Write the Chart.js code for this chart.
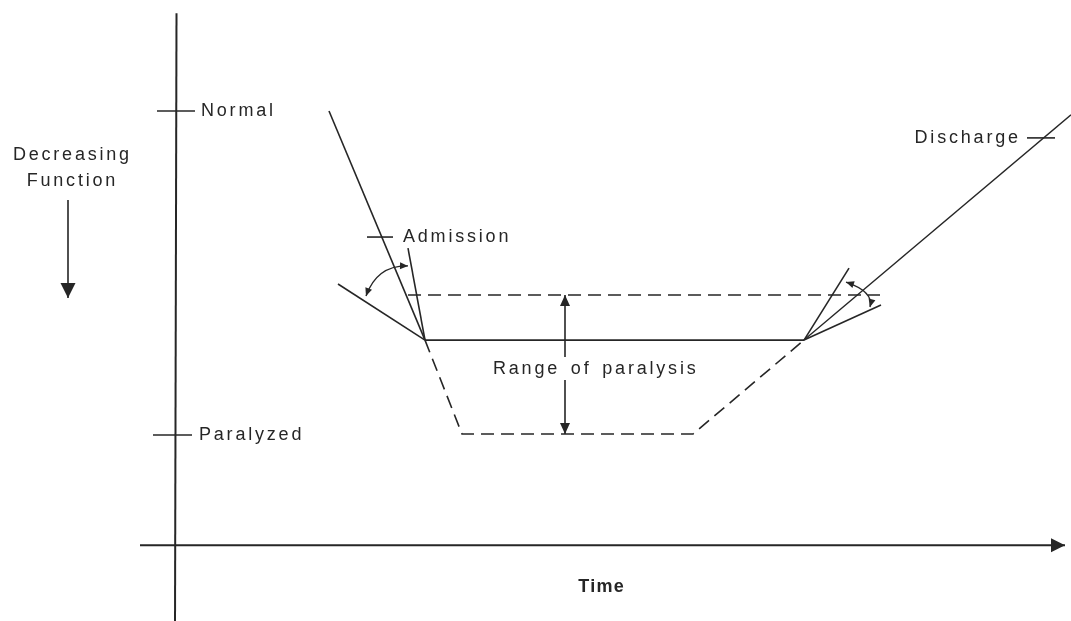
<!DOCTYPE html>
<html>
<head>
<meta charset="utf-8">
<script src="https://cdn.jsdelivr.net/npm/chart.js@4"></script>
<style>
  html, body { margin: 0; padding: 0; background: #ffffff; }
  #wrap { width: 1071px; height: 621px; }
</style>
</head>
<body>
<div id="wrap"><canvas id="c" width="1071" height="621"></canvas></div>
<script>
// ---- Data (time units on x, function level on y: Paralyzed = 0, Normal = 100) ----
const NORMAL = 100;
const PARALYZED = 0;
const yAxisLine       = [[-0.05, 130.2], [-0.2, -57.4]];
const timeAxisLine    = [[-3.7, -34], [88.8, -34]];
const decreasingArrow = [[-10.9, 72.5], [-10.9, 42.3]];
const normalTick      = [[-2.0, NORMAL], [1.8, NORMAL]];
const paralyzedTick   = [[-2.4, PARALYZED], [1.5, PARALYZED]];
const admissionTick   = [[19.0, 61.1], [21.6, 61.1]];
const dischargeTick   = [[85.0, 91.7], [87.8, 91.7]];
const onset           = [[15.2, NORMAL], [24.8, 29.3]];
const onsetTangent    = [[23.1, 57.7], [24.8, 29.3]];
const onsetShallow    = [[16.1, 46.6], [24.8, 29.3]];
const plateau         = [[24.8, 29.3], [62.7, 29.3]];
const upperBound      = [[23.1, 43.2], [70.3, 43.2]];
const lowerBound      = [[24.8, 29.3], [28.5, 0.3], [51.6, 0.3], [62.7, 29.3]];
const recovery        = [[62.7, 29.3], [89.4, 98.8]];
const recoverySteep   = [[62.7, 29.3], [67.2, 51.5]];
const recoveryShallow = [[62.7, 29.3], [70.4, 40.1]];
const rangeShaftTop   = [[38.8, 43.2], [38.8, 24.1]];
const rangeShaftBot   = [[38.8, 17.0], [38.8, 0.3]];
const leftCurve       = [[18.9, 42.9], [20.5, 50.0], [23.1, 52.2]];
const rightCurve      = [[66.9, 47.2], [68.9, 43.8], [69.3, 39.5]];
const labelTexts      = ['Normal', 'Paralyzed', 'Admission', 'Discharge', 'Range of paralysis', 'Time', 'Decreasing', 'Function'];
const labelAnchors    = [[2.4, NORMAL], [2.2, PARALYZED], [22.6, 61.1], [84.1, 91.7], [31.6, 20.5], [42.4, -46.9], [-10.6, 86.4], [-10.6, 78.4]];
const labelAligns     = ['left', 'left', 'left', 'right', 'left', 'center', 'center', 'center'];

const INK = '#262626';
const toXY = arr => arr.map(p => ({ x: p[0], y: p[1] }));
function ds(arr, opts) {
  return Object.assign({
    data: toXY(arr), showLine: true, borderColor: INK, borderWidth: 1.6,
    pointRadius: 0, fill: false, tension: 0
  }, opts || {});
}

function arrowHead(ctx, tx, ty, ang, len, hw) {
  ctx.save();
  ctx.translate(tx, ty);
  ctx.rotate(ang);
  ctx.beginPath();
  ctx.moveTo(0, 0);
  ctx.lineTo(-len, -hw);
  ctx.lineTo(-len, hw);
  ctx.closePath();
  ctx.fillStyle = INK;
  ctx.fill();
  ctx.restore();
}

const decorations = {
  id: 'decorations',
  afterDatasetsDraw(chart) {
    const ctx = chart.ctx;
    const xs = chart.scales.x, ys = chart.scales.y;
    const P = p => [xs.getPixelForValue(p[0]), ys.getPixelForValue(p[1])];

    const headAtEnd = (arr, len, hw) => {
      const a = P(arr[arr.length - 2]), b = P(arr[arr.length - 1]);
      arrowHead(ctx, b[0], b[1], Math.atan2(b[1] - a[1], b[0] - a[0]), len, hw);
    };
    headAtEnd(timeAxisLine, 14, 7);
    headAtEnd(decreasingArrow, 15, 7.5);
    const rt = P(rangeShaftTop[0]), rb = P(rangeShaftBot[1]);
    arrowHead(ctx, rt[0], rt[1], -Math.PI / 2, 11, 5);
    arrowHead(ctx, rb[0], rb[1], Math.PI / 2, 11, 5);

    const curve = (pts) => {
      const p1 = P(pts[0]), m = P(pts[1]), p2 = P(pts[2]);
      const c = [2 * m[0] - (p1[0] + p2[0]) / 2, 2 * m[1] - (p1[1] + p2[1]) / 2];
      ctx.save();
      ctx.strokeStyle = INK;
      ctx.lineWidth = 1.4;
      ctx.beginPath();
      ctx.moveTo(p1[0], p1[1]);
      ctx.quadraticCurveTo(c[0], c[1], p2[0], p2[1]);
      ctx.stroke();
      ctx.restore();
      arrowHead(ctx, p1[0], p1[1], Math.atan2(p1[1] - c[1], p1[0] - c[0]), 8, 3.5);
      arrowHead(ctx, p2[0], p2[1], Math.atan2(p2[1] - c[1], p2[0] - c[0]), 8, 3.5);
    };
    curve(leftCurve);
    curve(rightCurve);

    ctx.save();
    ctx.fillStyle = INK;
    ctx.textBaseline = 'middle';
    labelTexts.forEach((t, i) => {
      const p = P(labelAnchors[i]);
      const bold = t === 'Time';
      ctx.font = (bold ? 'bold ' : '') + '18px "Liberation Sans", Arial, sans-serif';
      const sp = bold ? 1.2 : 2.8;
      ctx.letterSpacing = sp + 'px';
      ctx.wordSpacing = '3px';
      ctx.textAlign = 'left';
      const w = ctx.measureText(t).width - sp;
      let x = p[0];
      if (labelAligns[i] === 'center') x -= w / 2;
      else if (labelAligns[i] === 'right') x -= w;
      ctx.fillText(t, x, p[1]);
    });
    ctx.restore();
  }
};

const dashed = { borderDash: [13, 7] };
new Chart(document.getElementById('c'), {
  type: 'scatter',
  data: {
    datasets: [
      ds(yAxisLine, { borderWidth: 2 }),
      ds(timeAxisLine, { borderWidth: 2 }),
      ds(decreasingArrow, { borderWidth: 1.6 }),
      ds(normalTick), ds(paralyzedTick), ds(admissionTick), ds(dischargeTick),
      ds(onset), ds(onsetTangent), ds(onsetShallow),
      ds(plateau),
      ds(upperBound, dashed),
      ds(lowerBound, dashed),
      ds(recovery, { borderWidth: 1.4 }),
      ds(recoverySteep), ds(recoveryShallow),
      ds(rangeShaftTop), ds(rangeShaftBot)
    ]
  },
  options: {
    responsive: false,
    animation: false,
    layout: { padding: 0 },
    plugins: { legend: { display: false }, tooltip: { enabled: false } },
    scales: {
      x: { type: 'linear', display: false, min: -17.7, max: 89.4 },
      y: { type: 'linear', display: false, min: -57.4, max: 134.26 }
    }
  },
  plugins: [decorations]
});
</script>
</body>
</html>
